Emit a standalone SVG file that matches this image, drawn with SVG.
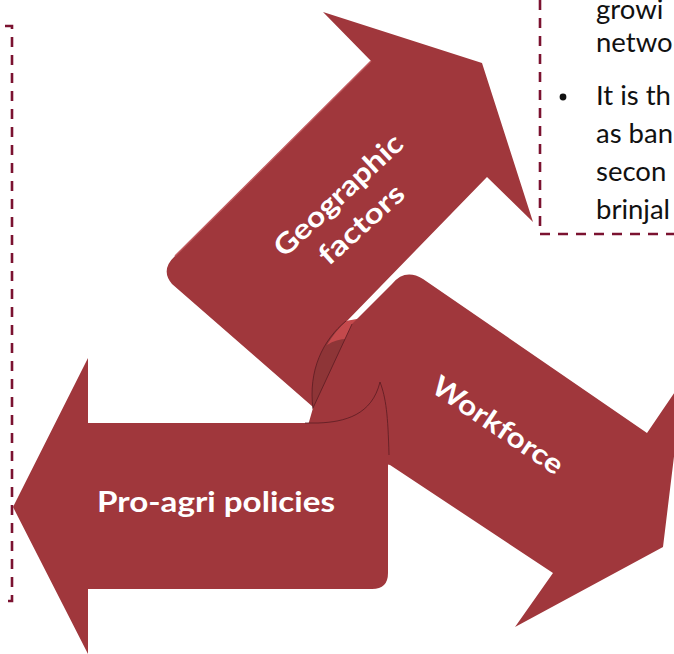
<svg xmlns="http://www.w3.org/2000/svg" width="674" height="654" viewBox="0 0 674 654">
<style>
.arrow{fill:#a0373c}
.dash{fill:none;stroke:#7b1230;stroke-width:2.6;stroke-dasharray:10 8}
.lbl{font-family:Lato,"Open Sans","Liberation Sans",sans-serif;font-weight:700;font-size:28px;fill:#ffffff}
.body{font-family:Lato,"Open Sans","Liberation Sans",sans-serif;font-size:27.5px;fill:#111111}
.edge{fill:none;stroke:#5a1c22;stroke-width:0.8}
</style>
<rect width="674" height="654" fill="#ffffff"/>
<g id="left-box">
<path class="dash" d="M5,26 L12,26 L12,601 L3,601"/>
</g>
<g id="right-box">
<path class="dash" d="M540,0 L540,234 L680,234"/>
<circle cx="563" cy="97" r="3.4" fill="#111111"/>
<text class="body" x="596" y="19">growi</text>
<text class="body" x="596" y="52">netwo</text>
<text class="body" x="596" y="105">It is th</text>
<text class="body" x="596" y="143">as ban</text>
<text class="body" x="596" y="181">secon</text>
<text class="body" x="596" y="219">brinjal</text>
</g>
<g id="geographic-factors">
<path class="arrow" d="M371,61 L323,12 L482,63 L533,222 L487,177 L345,323 L380,340 L340,420 L313,407 L172,284 Q160,270 175,256 Z"/>
<path d="M371,61 L175,256" fill="none" stroke="#c25a5f" stroke-width="1.4"/>
<g transform="translate(338,195) rotate(-43)"><text class="lbl" x="0" y="10" text-anchor="middle" textLength="165" lengthAdjust="spacingAndGlyphs">Geographic</text></g>
<g transform="translate(361,224) rotate(-42)"><text class="lbl" x="0" y="10" text-anchor="middle" textLength="105" lengthAdjust="spacingAndGlyphs">factors</text></g>
</g>
<g id="fold">
<path d="M346,321 C323,340 308,370 313,409 L360,400 L370,320 Z" fill="#8e3537"/>
<path d="M346,321 C339,328 332,336 327,345 C336,339 346,338 357,340 L362,318 Z" fill="#c4494c"/>
<path class="edge" d="M346,321 C323,340 308,370 313,409"/>
</g>
<g id="workforce">
<path class="arrow" d="M423,279 L647,433 L685,377 L676,440 L663,547 L515,627 L553,573 L390,465 L300,445 L309,422 L313,408 L352,324 L392,284 Q405,268 423,279 Z"/>
<path class="edge" d="M352,324 L313,408"/>
<g transform="translate(498,425) rotate(34)"><text class="lbl" x="0" y="10" text-anchor="middle" textLength="152" lengthAdjust="spacingAndGlyphs">Workforce</text></g>
</g>
<g id="pro-agri-policies">
<path class="arrow" d="M13,507 L88,358 L88,423 L318,423 C345,422 372,415 380,382 C386,398 388,415 388,440 L388,573 Q388,589 372,589 L88,589 L88,654 Z"/>
<path class="edge" d="M305,423 L318,423 C345,422 372,415 380,382 C386,398 388,415 389,455"/>
<text class="lbl" x="216" y="512" text-anchor="middle" textLength="238" lengthAdjust="spacingAndGlyphs">Pro-agri policies</text>
</g>
<g id="connectors"></g>
</svg>
